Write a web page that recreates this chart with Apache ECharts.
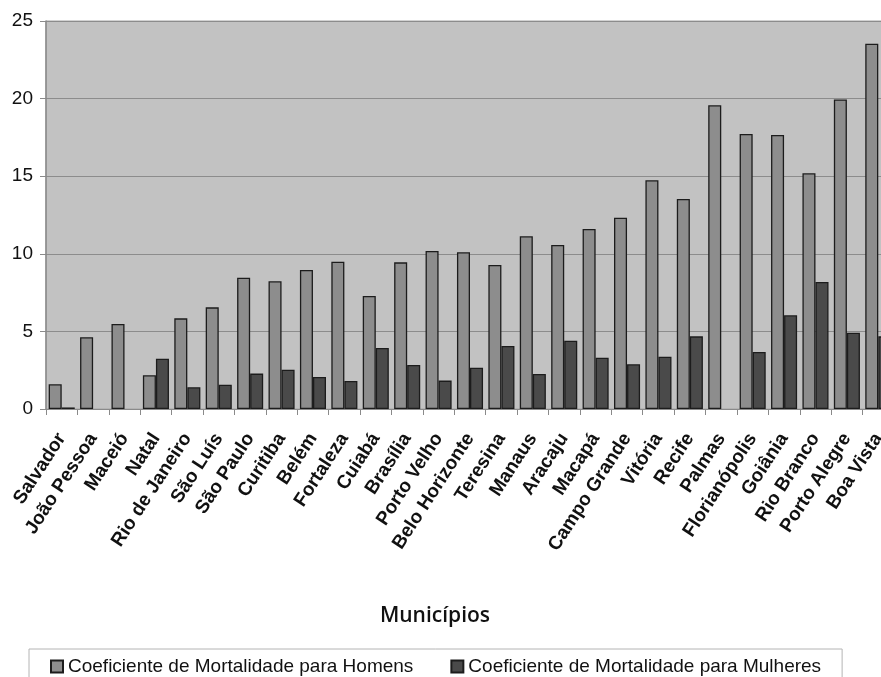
<!DOCTYPE html>
<html>
<head>
<meta charset="utf-8">
<script src="https://cdn.jsdelivr.net/npm/echarts@6/dist/echarts.min.js"></script>
<style>
  html, body { margin: 0; padding: 0; background: #ffffff; }
  #chart { width: 881px; height: 677px; }
</style>
</head>
<body>
<div id="chart"></div>
<script>
// Municípios ordered by male mortality coefficient
const municipios = [
  'Salvador', 'João Pessoa', 'Maceió', 'Natal', 'Rio de Janeiro', 'São Luís',
  'São Paulo', 'Curitiba', 'Belém', 'Fortaleza', 'Cuiabá', 'Brasília',
  'Porto Velho', 'Belo Horizonte', 'Teresina', 'Manaus', 'Aracaju', 'Macapá',
  'Campo Grande', 'Vitória', 'Recife', 'Palmas', 'Florianópolis', 'Goiânia',
  'Rio Branco', 'Porto Alegre', 'Boa Vista'
];

const homens = [
  1.59, 4.62, 5.48, 2.17, 5.84, 6.55,
  8.46, 8.23, 8.96, 9.49, 7.28, 9.45,
  10.18, 10.10, 9.28, 11.13, 10.57, 11.60,
  12.33, 14.74, 13.53, 19.57, 17.72, 17.65,
  15.19, 19.95, 23.54
];

const mulheres = [
  0.10, 0, 0, 3.24, 1.40, 1.57,
  2.28, 2.53, 2.06, 1.80, 3.93, 2.84,
  1.83, 2.66, 4.06, 2.26, 4.40, 3.31,
  2.88, 3.37, 4.68, 0, 3.67, 6.04,
  8.18, 4.92, 4.68
];

const yTicks = { min: 0, max: 25, interval: 5 };

const serieHomens = 'Coeficiente de Mortalidade para Homens';
const serieMulheres = 'Coeficiente de Mortalidade para Mulheres';

const sans = "'Liberation Sans', Arial, sans-serif";

// a zero coefficient leaves its slot empty instead of a flat outline
const semZero = v => (v === 0 ? null : v);

const chart = echarts.init(document.getElementById('chart'), null, { renderer: 'canvas' });

chart.setOption({
  backgroundColor: '#ffffff',
  animation: false,
  title: {
    text: 'Municípios',
    left: 430,
    top: 601,
    textAlign: 'center',
    textStyle: {
      fontFamily: "'Open Sans', 'Noto Sans', sans-serif",
      fontSize: 21,
      fontWeight: 600,
      color: '#111111'
    }
  },
  legend: {
    left: 29,
    top: 649,
    orient: 'horizontal',
    padding: [8, 21, 8, 21],
    itemGap: 37,
    itemWidth: 12,
    itemHeight: 12,
    icon: 'rect',
    borderColor: '#b4b4b4',
    borderWidth: 1,
    textStyle: { fontFamily: sans, fontSize: 19, color: '#111111' },
    data: [serieHomens, serieMulheres]
  },
  grid: {
    left: 46,
    top: 21,
    width: 848,
    bottom: 268,
    outerBoundsMode: 'none',
    containLabel: false,
    show: true,
    backgroundColor: '#c2c2c2',
    borderColor: '#a4a4a4',
    borderWidth: 1
  },
  xAxis: {
    type: 'category',
    data: municipios,
    boundaryGap: true,
    axisLine: { show: true, lineStyle: { color: '#8a8a8a', width: 1 } },
    axisTick: { show: true, length: 6, alignWithLabel: false, lineStyle: { color: '#8a8a8a' } },
    axisLabel: {
      interval: 0,
      rotate: 57,
      margin: 26,
      fontFamily: sans,
      fontWeight: 'bold',
      fontSize: 19,
      color: '#111111'
    }
  },
  yAxis: {
    type: 'value',
    min: yTicks.min,
    max: yTicks.max,
    interval: yTicks.interval,
    axisLine: { show: true, lineStyle: { color: '#8a8a8a', width: 1.5 } },
    axisTick: { show: true, length: 6, lineStyle: { color: '#8a8a8a' } },
    axisLabel: { margin: 13, fontFamily: sans, fontSize: 19, color: '#111111' },
    splitLine: { show: true, lineStyle: { color: '#8c8c8c', width: 1 } }
  },
  series: [
    {
      name: serieHomens,
      type: 'bar',
      data: homens.map(semZero),
      barGap: '0%',
      barCategoryGap: '17%',
      itemStyle: { color: '#8d8d8d', borderColor: '#1c1c1c', borderWidth: 1.3 }
    },
    {
      name: serieMulheres,
      type: 'bar',
      data: mulheres.map(semZero),
      barGap: '0%',
      barCategoryGap: '17%',
      itemStyle: { color: '#4a4a4a', borderColor: '#1c1c1c', borderWidth: 1.3 }
    }
  ]
});
</script>
</body>
</html>
